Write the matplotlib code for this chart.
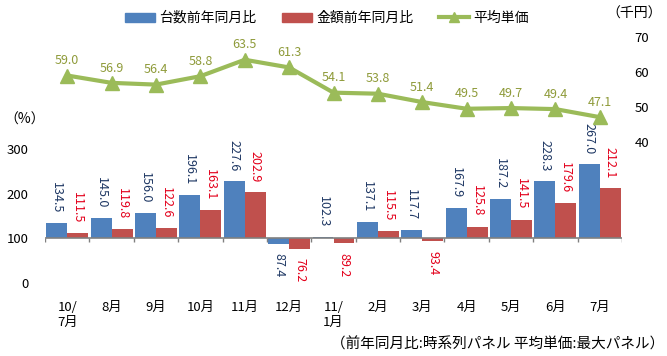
import matplotlib.pyplot as plt
from matplotlib.patches import Patch
from matplotlib.lines import Line2D

plt.rcParams['font.family'] = ['Noto Sans CJK JP', 'DejaVu Sans']

# data
months = ['10/\n7月', '8月', '9月', '10月', '11月', '12月', '11/\n1月',
          '2月', '3月', '4月', '5月', '6月', '7月']
units_yoy = [134.5, 145.0, 156.0, 196.1, 227.6, 87.4, 102.3,
             137.1, 117.7, 167.9, 187.2, 228.3, 267.0]
amount_yoy = [111.5, 119.8, 122.6, 163.1, 202.9, 76.2, 89.2,
              115.5, 93.4, 125.8, 141.5, 179.6, 212.1]
avg_price = [59.0, 56.9, 56.4, 58.8, 63.5, 61.3, 54.1,
             53.8, 51.4, 49.5, 49.7, 49.4, 47.1]

blue = '#4F81BD'
red = '#C0504D'
green = '#9BBB59'

fig = plt.figure(figsize=(6.67, 3.56), dpi=100)
ax = fig.add_axes([45 / 667, 56 / 356, 577 / 667, 280 / 356])
ax2 = ax.twinx()

x = list(range(len(months)))
w = 0.473
base = 100

ax.bar([i - w / 2 for i in x], [v - base for v in units_yoy], w, bottom=base, color=blue, zorder=2)
ax.bar([i + w / 2 for i in x], [v - base for v in amount_yoy], w, bottom=base, color=red, zorder=2)

# bar labels, vertical text
for i in x:
    for v, dx, col in [(units_yoy[i], -w / 2, '#1F3864'), (amount_yoy[i], w / 2, '#E3001B')]:
        if v >= base:
            ax.annotate(f'{v:.1f}', (i + dx, v), xytext=(0, 7), textcoords='offset points',
                        rotation=-90, ha='center', va='bottom', fontsize=9, color=col)
        else:
            ax.annotate(f'{v:.1f}', (i + dx, v), xytext=(0, -7), textcoords='offset points',
                        rotation=-90, ha='center', va='top', fontsize=9, color=col)

# x axis drawn at 100
ax.axhline(base, color='#808080', lw=1.2, zorder=3)
ax.vlines([i - 0.5 for i in range(len(months) + 1)], base - 9, base, color='#808080', lw=1, zorder=3)

ax.set_xlim(-0.5, len(months) - 0.5)
ax.set_ylim(-39.3, 589.9)
ax.set_yticks([0, 100, 200, 300])
ax.set_xticks(x)
ax.set_xticklabels(months, fontsize=9.5)
ax.tick_params(axis='x', length=0, pad=1)
ax.tick_params(axis='y', length=0, pad=12, labelsize=9.5)
for s in ax.spines.values():
    s.set_visible(False)

ax2.plot(x, avg_price, color=green, lw=3, marker='^', ms=10, zorder=4)
for i, v in zip(x, avg_price):
    ax2.annotate(f'{v:.1f}', (i, v), xytext=(0, 6), textcoords='offset points',
                 ha='center', va='bottom', fontsize=9, color='#8F9B3A')
ax2.set_ylim(-5.14, 74.86)
ax2.set_yticks([40, 50, 60, 70])
ax2.tick_params(axis='y', length=0, pad=9, labelsize=9.5)
for s in ax2.spines.values():
    s.set_visible(False)

fig.text(4 / 667, 1 - 120 / 356, '（%）', fontsize=10, va='center')
fig.text(606 / 667, 1 - 14 / 356, '（千円）', fontsize=10, va='center')
fig.text(664 / 667, 1 - 344 / 356, '（前年同月比:時系列パネル 平均単価:最大パネル）',
         fontsize=10.5, ha='right', va='center')

handles = [Patch(color=blue), Patch(color=red),
           Line2D([], [], color=green, lw=3, marker='^', ms=7)]
fig.legend(handles, ['台数前年同月比', '金額前年同月比', '平均単価'], loc='center',
           bbox_to_anchor=(0.49, 1 - 18 / 356), ncol=3, frameon=False, fontsize=10,
           handlelength=2.2, handleheight=0.6, columnspacing=1.8, handletextpad=0.3)

fig.savefig('out.png', dpi=100)
